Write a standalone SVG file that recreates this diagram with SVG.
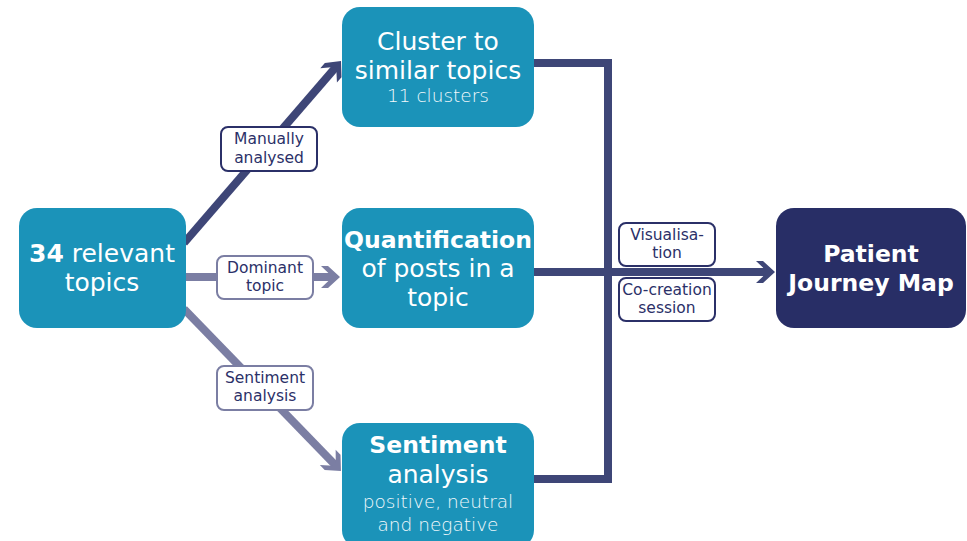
<svg xmlns="http://www.w3.org/2000/svg" width="967" height="541" viewBox="0 0 967 541">
  <style>
    .node { fill: #1b93b9; }
    .final { fill: #282e66; }
    .ntext { fill: #ffffff; font-family: "DejaVu Sans", Inter, "Liberation Sans", sans-serif; text-anchor: middle; }
    .big { font-size: 25px; }
    .bold-line { font-size: 23.5px; font-weight: 700; }
    .small { font-size: 18.5px; font-weight: 200; fill: #f2f9fc; }
    .b { font-weight: 700; }
    .lbl rect { fill: #ffffff; stroke-width: 2; }
    .lbl text { fill: #2b3068; font-family: "DejaVu Sans", Inter, "Liberation Sans", sans-serif; font-size: 15.5px; text-anchor: middle; }
    .dark rect { stroke: #2b3068; }
    .light rect { stroke: #7b7ea3; }
    .conn { fill: none; stroke-width: 8; stroke-linejoin: miter; }
    .c-dark { stroke: #3e4677; }
    .c-light { stroke: #7b7ea3; }
  </style>
  <defs>
    <marker id="head-dark" markerUnits="userSpaceOnUse" viewBox="-20 -12 22 24" refX="-8" refY="0" markerWidth="22" markerHeight="24" orient="auto">
      <path d="M0,0 L-12,-11 L-19,-11 L-9,-1.5 L-9,1.5 L-19,11 L-12,11 Z" fill="#3e4677"/>
    </marker>
    <marker id="head-light" markerUnits="userSpaceOnUse" viewBox="-20 -12 22 24" refX="-8" refY="0" markerWidth="22" markerHeight="24" orient="auto">
      <path d="M0,0 L-12,-11 L-19,-11 L-9,-1.5 L-9,1.5 L-19,11 L-12,11 Z" fill="#7b7ea3"/>
    </marker>
  </defs>

  <rect width="967" height="541" fill="#ffffff"/>

  <!-- connectors -->
  <g id="connectors">
    <line class="conn c-dark" x1="184" y1="243" x2="335.8" y2="67.1" marker-end="url(#head-dark)"/>
    <line class="conn c-light" x1="184" y1="277" x2="332" y2="277" marker-end="url(#head-light)"/>
    <line class="conn c-light" x1="184" y1="309" x2="335.4" y2="465.3" marker-end="url(#head-light)"/>
    <path class="conn c-dark" d="M534,63 H608 V479 H534"/>
    <line class="conn c-dark" x1="534" y1="272" x2="767" y2="272" marker-end="url(#head-dark)"/>
  </g>

  <!-- edge labels -->
  <g id="label-manual" class="lbl dark">
    <rect x="221" y="127" width="96" height="44" rx="7"/>
    <text x="269" y="144">Manually</text>
    <text x="269" y="163">analysed</text>
  </g>
  <g id="label-dominant" class="lbl light">
    <rect x="217" y="256" width="96" height="43" rx="7"/>
    <text x="265" y="273">Dominant</text>
    <text x="265" y="291">topic</text>
  </g>
  <g id="label-sentiment" class="lbl light">
    <rect x="217" y="366" width="96" height="44" rx="7"/>
    <text x="265" y="383">Sentiment</text>
    <text x="265" y="401">analysis</text>
  </g>
  <g id="label-visual" class="lbl dark">
    <rect x="619" y="223" width="96" height="43" rx="7"/>
    <text x="667" y="240">Visualisa-</text>
    <text x="667" y="258">tion</text>
  </g>
  <g id="label-cocreation" class="lbl dark">
    <rect x="619" y="278" width="96" height="43" rx="7"/>
    <text x="667" y="295">Co-creation</text>
    <text x="667" y="313">session</text>
  </g>

  <!-- nodes -->
  <g id="node-topics">
    <rect class="node" x="19" y="208" width="167" height="120" rx="18"/>
    <text class="ntext big" x="102" y="262"><tspan class="b">34</tspan> relevant</text>
    <text class="ntext big" x="102" y="291">topics</text>
  </g>
  <g id="node-cluster">
    <rect class="node" x="342" y="7" width="192" height="120" rx="18"/>
    <text class="ntext big" x="438" y="50">Cluster to</text>
    <text class="ntext big" x="438" y="79">similar topics</text>
    <text class="ntext small" x="438" y="102">11 clusters</text>
  </g>
  <g id="node-quant">
    <rect class="node" x="342" y="208" width="192" height="120" rx="18"/>
    <text class="ntext bold-line" x="438" y="248">Quantification</text>
    <text class="ntext big" x="438" y="277">of posts in a</text>
    <text class="ntext big" x="438" y="306">topic</text>
  </g>
  <g id="node-sentiment">
    <rect class="node" x="342" y="423" width="192" height="125" rx="18"/>
    <text class="ntext bold-line" x="438" y="453">Sentiment</text>
    <text class="ntext big" x="438" y="483">analysis</text>
    <text class="ntext small" x="438" y="508">positive, neutral</text>
    <text class="ntext small" x="438" y="531">and negative</text>
  </g>
  <g id="node-journey">
    <rect class="final" x="776" y="208" width="190" height="120" rx="18"/>
    <text class="ntext bold-line" x="871" y="262" font-size="23">Patient</text>
    <text class="ntext bold-line" x="871" y="291" font-size="23">Journey Map</text>
  </g>
</svg>
